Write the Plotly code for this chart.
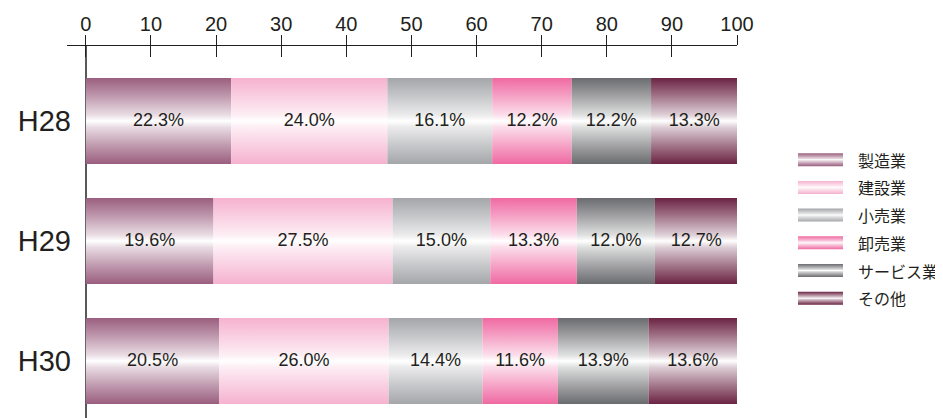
import plotly.graph_objects as go

categories = ["H28", "H29", "H30"]
series_names = ["製造業", "建設業", "小売業", "卸売業", "サービス業", "その他"]
manufacturing = [22.3, 19.6, 20.5]
construction = [24.0, 27.5, 26.0]
retail = [16.1, 15.0, 14.4]
wholesale = [12.2, 13.3, 11.6]
services = [12.2, 12.0, 13.9]
others = [13.3, 12.7, 13.6]
x_ticks = [0, 10, 20, 30, 40, 50, 60, 70, 80, 90, 100]

series_values = [manufacturing, construction, retail, wholesale, services, others]
edge_colors = ["#9a5e7e", "#f6b2cf", "#a5a6a9", "#ef6aa2", "#6b6c6f", "#6b2444"]
TEXT = "#231f20"
FONT = "Liberation Sans, Arial, Noto Sans CJK JP, sans-serif"
JP_FONT = "Noto Sans CJK JP, sans-serif"

# page geometry (the browser adds an 8px body margin)
PLOT_W = 884.0
MAIN_DOMAIN = [0.0, 670.0 / PLOT_W]


def mix(hex_color, t):
    h = hex_color.lstrip("#")
    r, g, b = int(h[0:2], 16), int(h[2:4], 16), int(h[4:6], 16)
    r = round(r + (255 - r) * t)
    g = round(g + (255 - g) * t)
    b = round(b + (255 - b) * t)
    return f"rgb({r},{g},{b})"


def scale(edge):
    return [
        [0.0, mix(edge, 0.0)],
        [0.2, mix(edge, 0.35)],
        [0.43, mix(edge, 0.78)],
        [0.5, "rgb(255,255,255)"],
        [0.57, mix(edge, 0.78)],
        [0.8, mix(edge, 0.35)],
        [1.0, mix(edge, 0.0)],
    ]


half = 0.358
fig = go.Figure()

label_x, label_y, label_t = [], [], []
for ci, cat in enumerate(categories):
    cum = 0.0
    for si, name in enumerate(series_names):
        v = series_values[si][ci]
        x0, x1 = cum, cum + v
        y0, y1 = ci - half, ci + half
        fig.add_trace(go.Scatter(
            x=[x0, x1, x1, x0, x0],
            y=[y0, y0, y1, y1, y0],
            mode="lines",
            fill="toself",
            line=dict(width=0, color=edge_colors[si]),
            fillgradient=dict(type="vertical", colorscale=scale(edge_colors[si]),
                              start=y0, stop=y1),
            name=name,
            showlegend=False,
            hoverinfo="skip",
        ))
        label_x.append(cum + v / 2)
        label_y.append(ci)
        label_t.append(f"{v:.1f}%")
        cum += v

fig.add_trace(go.Scatter(
    x=label_x, y=label_y, text=label_t, mode="text",
    textfont=dict(size=18, color=TEXT, family=FONT),
    showlegend=False, hoverinfo="skip",
))

# second x axis only for the downward half of the crossing ticks
fig.add_trace(go.Scatter(x=[0], y=[0], xaxis="x2", mode="markers",
                         marker=dict(opacity=0), showlegend=False, hoverinfo="skip"))

# legend swatches drawn on their own small axes
SW_TOP = 113.7
SW_STEP = 27.7
SW_HALF = 6.5
for si, name in enumerate(series_names):
    c = SW_TOP + SW_STEP * si
    fig.add_trace(go.Scatter(
        x=[0, 1, 1, 0, 0],
        y=[c - SW_HALF, c - SW_HALF, c + SW_HALF, c + SW_HALF, c - SW_HALF],
        xaxis="x3", yaxis="y3",
        mode="lines", fill="toself",
        line=dict(width=0, color=edge_colors[si]),
        fillgradient=dict(type="vertical", colorscale=scale(edge_colors[si]),
                          start=c - SW_HALF, stop=c + SW_HALF),
        name=name, showlegend=False, hoverinfo="skip",
    ))
    fig.add_annotation(
        x=(856 - 67) / PLOT_W, xref="paper", xanchor="left",
        y=c, yref="y3", yanchor="middle",
        text=name, showarrow=False,
        font=dict(size=16, color=TEXT, family=JP_FONT),
    )

fig.update_layout(
    width=943, height=418,
    margin=dict(l=59, r=0, t=38, b=0, autoexpand=False),
    paper_bgcolor="white", plot_bgcolor="white",
    font=dict(family=FONT, color=TEXT),
    showlegend=False,
    xaxis=dict(
        domain=MAIN_DOMAIN, automargin=False,
        side="top", range=[-2.9, 100], tickvals=x_ticks,
        ticks="outside", ticklen=10, tickwidth=1, tickcolor="#231f20",
        showline=True, linecolor="#231f20", linewidth=1.3,
        showgrid=False, zeroline=True, zerolinecolor="#58595b", zerolinewidth=1.6,
        tickfont=dict(size=20, color=TEXT, family=FONT),
        ticklabelstandoff=-4,
        fixedrange=True,
    ),
    xaxis2=dict(
        domain=MAIN_DOMAIN, automargin=False,
        overlaying="x", side="top", range=[-2.9, 100], tickvals=x_ticks,
        ticks="inside", ticklen=11, tickwidth=1, tickcolor="#231f20",
        showticklabels=False, showgrid=False, zeroline=False, showline=False,
        anchor="y",
    ),
    yaxis=dict(
        automargin=False,
        range=[-0.625 + 380 / 120, -0.625], tickvals=[0, 1, 2], ticktext=categories,
        anchor="free", position=4 / PLOT_W, showline=False, showgrid=False,
        zeroline=False, ticks="", tickfont=dict(size=29, color=TEXT, family=FONT),
    ),
    xaxis3=dict(
        domain=[(798 - 67) / PLOT_W, (843 - 67) / PLOT_W], range=[0, 1],
        anchor="y3", visible=False, fixedrange=True, automargin=False,
    ),
    yaxis3=dict(
        domain=[0, 1], range=[380, 0], anchor="x3", visible=False,
        fixedrange=True, automargin=False,
    ),
)

fig.write_html("out.html")
